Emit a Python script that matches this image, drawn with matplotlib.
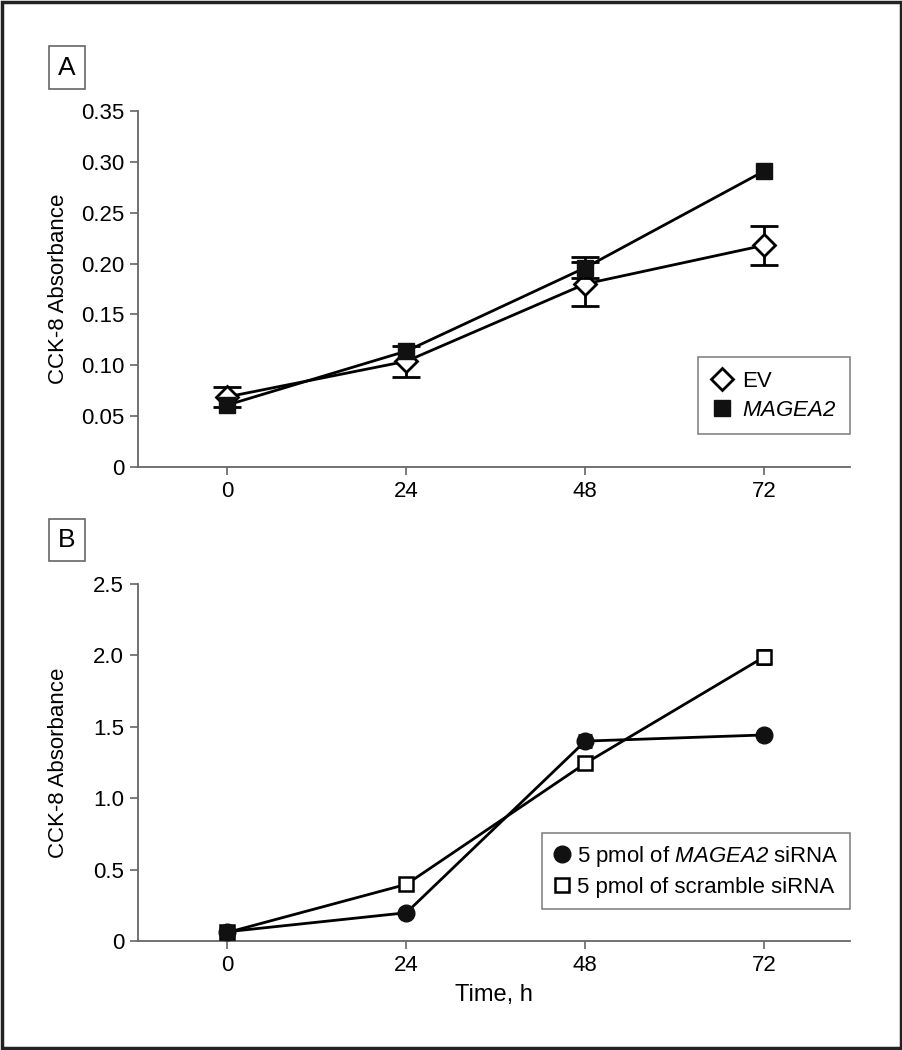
import matplotlib
matplotlib.use("Agg")
from matplotlib import pyplot as plt
from matplotlib.lines import Line2D
from matplotlib.patches import Rectangle
from matplotlib.ticker import FixedLocator, FixedFormatter

# data
hours = [0, 24, 48, 72]

ev_mean = [0.069, 0.104, 0.180, 0.218]
ev_err = [0.010, 0.015, 0.022, 0.019]
magea2_mean = [0.061, 0.114, 0.196, 0.291]
magea2_err = [0.0, 0.0, 0.010, 0.0]

sirna_mean = [0.065, 0.198, 1.40, 1.443]
sirna_err = [0.04, 0.0, 0.04, 0.0]
scramble_mean = [0.060, 0.397, 1.244, 1.99]
scramble_err = [0.0, 0.0, 0.04, 0.05]

yticks_a = [0, 0.05, 0.10, 0.15, 0.20, 0.25, 0.30, 0.35]
ylabels_a = ["0", "0.05", "0.10", "0.15", "0.20", "0.25", "0.30", "0.35"]
yticks_b = [0, 0.5, 1.0, 1.5, 2.0, 2.5]
ylabels_b = ["0", "0.5", "1.0", "1.5", "2.0", "2.5"]

plt.rcParams['font.family'] = ['Liberation Sans', 'DejaVu Sans']
# mathtext is only used for the gene name, so make all of it italic
plt.rcParams['mathtext.fontset'] = 'custom'
plt.rcParams['mathtext.rm'] = 'Liberation Sans:italic'
plt.rcParams['mathtext.it'] = 'Liberation Sans:italic'
plt.rcParams['font.size'] = 16

fig = plt.figure(figsize=(9.03, 10.5), dpi=100)

# border around the whole figure
fig.patches.append(Rectangle((0.002, 0.002), 0.996, 0.996, transform=fig.transFigure,
                             fill=False, edgecolor="#222222", linewidth=2.5))

ax_a = fig.add_axes([0.1528, 0.5552, 0.7885, 0.3391])
ax_b = fig.add_axes([0.1528, 0.1038, 0.7885, 0.3400])

axis_col = "#666666"


def style_axis(ax, ticks, labels, ymax):
    for s in ["top", "right"]:
        ax.spines[s].set_visible(False)
    for s in ["left", "bottom"]:
        ax.spines[s].set_color(axis_col)
        ax.spines[s].set_linewidth(1.3)
    ax.set_xlim(-12, 83.5)
    ax.set_ylim(0, ymax)
    ax.set_xticks(hours)
    ax.set_xticklabels([str(h) for h in hours])
    ax.yaxis.set_major_locator(FixedLocator(ticks))
    ax.yaxis.set_major_formatter(FixedFormatter(labels))
    ax.tick_params(direction="out", length=6, width=1.2, color=axis_col, pad=4)
    ax.set_ylabel("CCK-8 Absorbance")
    ax.yaxis.set_label_coords(-0.097, 0.5)


def series(ax, x, y, err, cap, z, **mk):
    ax.plot(x, y, color="black", lw=2, zorder=z, **mk)
    # only the bars that show in the picture
    xs = [a for a, e in zip(x, err) if e > 0]
    ys = [b for b, e in zip(y, err) if e > 0]
    es = [e for e in err if e > 0]
    ax.errorbar(xs, ys, yerr=es, fmt="none", ecolor="black", elinewidth=2,
                capsize=cap, capthick=2, zorder=z - 0.5)


# Panel A
series(ax_a, hours, ev_mean, ev_err, 10, 3, marker="D", markersize=11,
       markerfacecolor="white", markeredgecolor="black", markeredgewidth=2)
series(ax_a, hours, magea2_mean, magea2_err, 10, 4, marker="s", markersize=12,
       markerfacecolor="#111111", markeredgecolor="#111111")
style_axis(ax_a, yticks_a, ylabels_a, 0.35)

handles_a = [Line2D([], [], ls="none", marker="D", markersize=11, markerfacecolor="white",
                    markeredgecolor="black", markeredgewidth=2),
             Line2D([], [], ls="none", marker="s", markersize=12, markerfacecolor="#111111",
                    markeredgecolor="#111111")]
leg_a = ax_a.legend(handles_a, ["EV", r"$MAGEA2$"], loc="lower right",
                    bbox_to_anchor=(1.0, 0.093), frameon=True, fancybox=False, fontsize=16,
                    handlelength=1.0, handletextpad=0.4, labelspacing=0.35,
                    borderpad=0.6, borderaxespad=0)
leg_a.get_frame().set_edgecolor(axis_col)
leg_a.get_frame().set_linewidth(1.2)

# Panel B
series(ax_b, hours, scramble_mean, scramble_err, 5, 3, marker="s", markersize=10,
       markerfacecolor="white", markeredgecolor="black", markeredgewidth=1.8)
series(ax_b, hours, sirna_mean, sirna_err, 5, 4, marker="o", markersize=12,
       markerfacecolor="#111111", markeredgecolor="#111111")
style_axis(ax_b, yticks_b, ylabels_b, 2.5)
ax_b.set_xlabel("Time, h", labelpad=6, fontsize=17)

handles_b = [Line2D([], [], ls="none", marker="o", markersize=12, markerfacecolor="#111111",
                    markeredgecolor="#111111"),
             Line2D([], [], ls="none", marker="s", markersize=10, markerfacecolor="white",
                    markeredgecolor="black", markeredgewidth=1.8)]
leg_b = ax_b.legend(handles_b, [r"5 pmol of $MAGEA2$ siRNA", "5 pmol of scramble siRNA"],
                    loc="lower right", bbox_to_anchor=(1.0, 0.09), frameon=True, fancybox=False,
                    fontsize=16, handlelength=0.8, handletextpad=0.3, labelspacing=0.35,
                    borderpad=0.5, borderaxespad=0)
leg_b.get_frame().set_edgecolor(axis_col)
leg_b.get_frame().set_linewidth(1.2)

# panel letters in small boxes
for letter, ypos in [("A", 0.9357), ("B", 0.4857)]:
    fig.text(0.0742, ypos, letter, ha="center", va="center", fontsize=19,
             bbox=dict(boxstyle="square,pad=0.35", facecolor="white", edgecolor=axis_col, linewidth=1.2))

plt.savefig("out.png", dpi=100)
